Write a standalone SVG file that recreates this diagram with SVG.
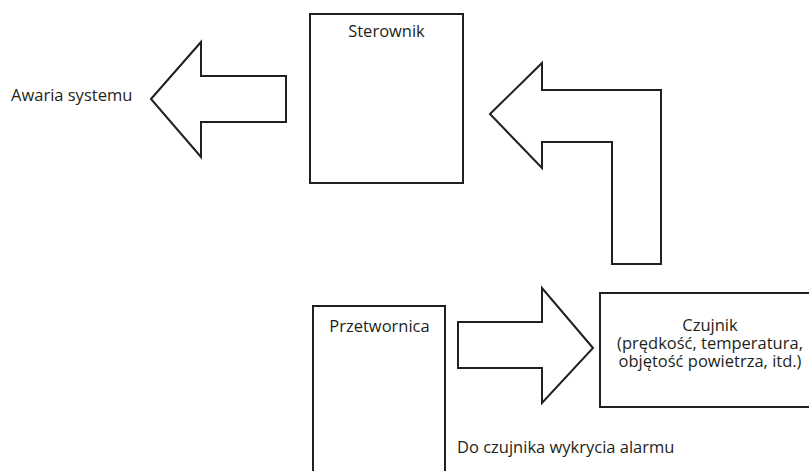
<svg xmlns="http://www.w3.org/2000/svg" width="809" height="471" viewBox="0 0 809 471">
<style>
.box{fill:#fff;stroke:#231f20;stroke-width:2}
.arr{fill:#fff;stroke:#231f20;stroke-width:2;stroke-linejoin:miter}
text{font-family:"Open Sans","Noto Sans",sans-serif;font-size:16.5px;fill:#231f20}
</style>
<rect width="809" height="471" fill="#fff"/>
<g id="connectors">
<polygon class="arr" points="151,99 201,42 201,76 286,76 286,122 201,122 201,157"/>
<polygon class="arr" points="490,114 542,63 542,90 661,90 661,264 612,264 612,142 542,142 542,168"/>
<polygon class="arr" points="593,348 542,288 542,322 458,322 458,368 542,368 542,403"/>
</g>
<g id="sterownik">
<rect class="box" x="310" y="14" width="153" height="169"/>
<text x="386.5" y="37" text-anchor="middle">Sterownik</text>
</g>
<g id="awaria">
<text x="11" y="101">Awaria systemu</text>
</g>
<g id="przetwornica">
<rect class="box" x="313" y="306" width="132" height="170"/>
<text x="379.5" y="332" text-anchor="middle">Przetwornica</text>
</g>
<g id="czujnik">
<rect class="box" x="600" y="293" width="210" height="114"/>
<text text-anchor="middle"><tspan x="710" y="330.5">Czujnik</tspan><tspan x="710" y="348.5">(prędkość, temperatura,</tspan><tspan x="710" y="366.5">objętość powietrza, itd.)</tspan></text>
</g>
<g id="alarm">
<text x="457" y="453">Do czujnika wykrycia alarmu</text>
</g>
</svg>
